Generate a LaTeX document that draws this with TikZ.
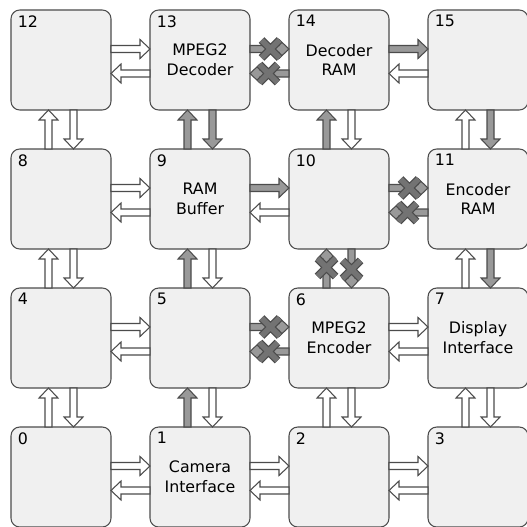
\documentclass[tikz,border=0pt]{standalone}
\usepackage{fontspec}
\setmainfont{DejaVu Sans}
\usetikzlibrary{calc, positioning}

\colorlet{tilefill}{black!6}
\colorlet{tileline}{black!70}
\colorlet{busgray}{black!40}
\colorlet{xgray}{black!55}

\newcommand{\shaftw}{0.07cm}
\newcommand{\headw}{0.19cm}
\newcommand{\headl}{0.2cm}

% block arrow between two tile sides: style, from, to, offset
\newcommand{\fatarrow}[4]{%
  \coordinate (fa) at ($(#2)+(#4)$);
  \coordinate (fb) at ($(#3)+(#4)$);
  \coordinate (fh) at ($(fb)!\headl!(fa)$);
  \draw[#1] ($(fa)!\shaftw!90:(fb)$) -- ($(fh)!\shaftw!90:(fb)$)
    -- ($(fh)!\headw!90:(fb)$) -- (fb) -- ($(fh)!\headw!-90:(fb)$)
    -- ($(fh)!\shaftw!-90:(fb)$) -- ($(fa)!\shaftw!-90:(fb)$) -- cycle;
}
% cross over the head of the last arrow
\newcommand{\xmark}{%
  \coordinate (fx) at ($(fb)!0.37cm!(fa)$);
  \draw[line width=0.16cm, tileline] ($(fx)+(-0.18,-0.18)$) -- ($(fx)+(0.18,0.18)$)
    ($(fx)+(-0.18,0.18)$) -- ($(fx)+(0.18,-0.18)$);
  \draw[line width=0.11cm, xgray] ($(fx)+(-0.18,-0.18)$) -- ($(fx)+(0.18,0.18)$)
    ($(fx)+(-0.18,0.18)$) -- ($(fx)+(0.18,-0.18)$);
}

\begin{document}
\begin{tikzpicture}[
    tile/.style={draw=tileline, fill=tilefill, rounded corners=5pt, line width=0.6pt,
      minimum width=2cm, minimum height=2cm, outer sep=0pt, align=center,
      font=\fontsize{9}{11.3}\selectfont},
    num/.style={anchor=north west, inner xsep=0.13cm, inner ysep=0.1cm,
      font=\fontsize{9}{11}\selectfont},
    openbus/.style={draw=tileline, fill=white, line width=0.6pt},
    graybus/.style={draw=tileline, fill=busgray, line width=0.6pt},
    node distance=0.78cm,
  ]
    \useasboundingbox[fill=white] (0,0) rectangle (10.54,-10.54);

    % tiles
    \node[tile, label={[num]north west:12}] (t12) at (1.22,-1.2) {};
    \node[tile, right=of t12, label={[num]north west:13}] (t13) {MPEG2\\Decoder};
    \node[tile, right=of t13, label={[num]north west:14}] (t14) {Decoder\\RAM};
    \node[tile, right=of t14, label={[num]north west:15}] (t15) {};
    \node[tile, below=of t12, label={[num]north west:8}] (t8) {};
    \node[tile, right=of t8, label={[num]north west:9}] (t9) {RAM\\Buffer};
    \node[tile, right=of t9, label={[num]north west:10}] (t10) {};
    \node[tile, right=of t10, label={[num]north west:11}] (t11) {Encoder\\RAM};
    \node[tile, below=of t8, label={[num]north west:4}] (t4) {};
    \node[tile, right=of t4, label={[num]north west:5}] (t5) {};
    \node[tile, right=of t5, label={[num]north west:6}] (t6) {MPEG2\\Encoder};
    \node[tile, right=of t6, label={[num]north west:7}] (t7) {Display\\Interface};
    \node[tile, below=of t4, label={[num]north west:0}] (t0) {};
    \node[tile, right=of t0, label={[num]north west:1}] (t1) {Camera\\Interface};
    \node[tile, right=of t1, label={[num]north west:2}] (t2) {};
    \node[tile, right=of t2, label={[num]north west:3}] (t3) {};

    % horizontal links
    \fatarrow{openbus}{t12.east}{t13.west}{0,0.22}
    \fatarrow{openbus}{t13.west}{t12.east}{0,-0.27}
    \fatarrow{graybus}{t13.east}{t14.west}{0,0.22}\xmark
    \fatarrow{graybus}{t14.west}{t13.east}{0,-0.27}\xmark
    \fatarrow{graybus}{t14.east}{t15.west}{0,0.22}
    \fatarrow{openbus}{t15.west}{t14.east}{0,-0.27}
    \fatarrow{openbus}{t8.east}{t9.west}{0,0.22}
    \fatarrow{openbus}{t9.west}{t8.east}{0,-0.27}
    \fatarrow{graybus}{t9.east}{t10.west}{0,0.22}
    \fatarrow{openbus}{t10.west}{t9.east}{0,-0.27}
    \fatarrow{graybus}{t10.east}{t11.west}{0,0.22}\xmark
    \fatarrow{graybus}{t11.west}{t10.east}{0,-0.27}\xmark
    \fatarrow{openbus}{t4.east}{t5.west}{0,0.22}
    \fatarrow{openbus}{t5.west}{t4.east}{0,-0.27}
    \fatarrow{graybus}{t5.east}{t6.west}{0,0.22}\xmark
    \fatarrow{graybus}{t6.west}{t5.east}{0,-0.27}\xmark
    \fatarrow{openbus}{t6.east}{t7.west}{0,0.22}
    \fatarrow{openbus}{t7.west}{t6.east}{0,-0.27}
    \fatarrow{openbus}{t0.east}{t1.west}{0,0.22}
    \fatarrow{openbus}{t1.west}{t0.east}{0,-0.27}
    \fatarrow{openbus}{t1.east}{t2.west}{0,0.22}
    \fatarrow{openbus}{t2.west}{t1.east}{0,-0.27}
    \fatarrow{openbus}{t2.east}{t3.west}{0,0.22}
    \fatarrow{openbus}{t3.west}{t2.east}{0,-0.27}

    % vertical links
    \fatarrow{openbus}{t8.north}{t12.south}{-0.25,0}
    \fatarrow{openbus}{t12.south}{t8.north}{0.25,0}
    \fatarrow{graybus}{t9.north}{t13.south}{-0.25,0}
    \fatarrow{graybus}{t13.south}{t9.north}{0.25,0}
    \fatarrow{graybus}{t10.north}{t14.south}{-0.25,0}
    \fatarrow{openbus}{t14.south}{t10.north}{0.25,0}
    \fatarrow{openbus}{t11.north}{t15.south}{-0.25,0}
    \fatarrow{graybus}{t15.south}{t11.north}{0.25,0}
    \fatarrow{openbus}{t4.north}{t8.south}{-0.25,0}
    \fatarrow{openbus}{t8.south}{t4.north}{0.25,0}
    \fatarrow{graybus}{t5.north}{t9.south}{-0.25,0}
    \fatarrow{openbus}{t9.south}{t5.north}{0.25,0}
    \fatarrow{graybus}{t6.north}{t10.south}{-0.25,0}\xmark
    \fatarrow{graybus}{t10.south}{t6.north}{0.25,0}\xmark
    \fatarrow{openbus}{t7.north}{t11.south}{-0.25,0}
    \fatarrow{graybus}{t11.south}{t7.north}{0.25,0}
    \fatarrow{openbus}{t0.north}{t4.south}{-0.25,0}
    \fatarrow{openbus}{t4.south}{t0.north}{0.25,0}
    \fatarrow{graybus}{t1.north}{t5.south}{-0.25,0}
    \fatarrow{openbus}{t5.south}{t1.north}{0.25,0}
    \fatarrow{openbus}{t2.north}{t6.south}{-0.25,0}
    \fatarrow{openbus}{t6.south}{t2.north}{0.25,0}
    \fatarrow{openbus}{t3.north}{t7.south}{-0.25,0}
    \fatarrow{openbus}{t7.south}{t3.north}{0.25,0}
  \end{tikzpicture}
\end{document}
